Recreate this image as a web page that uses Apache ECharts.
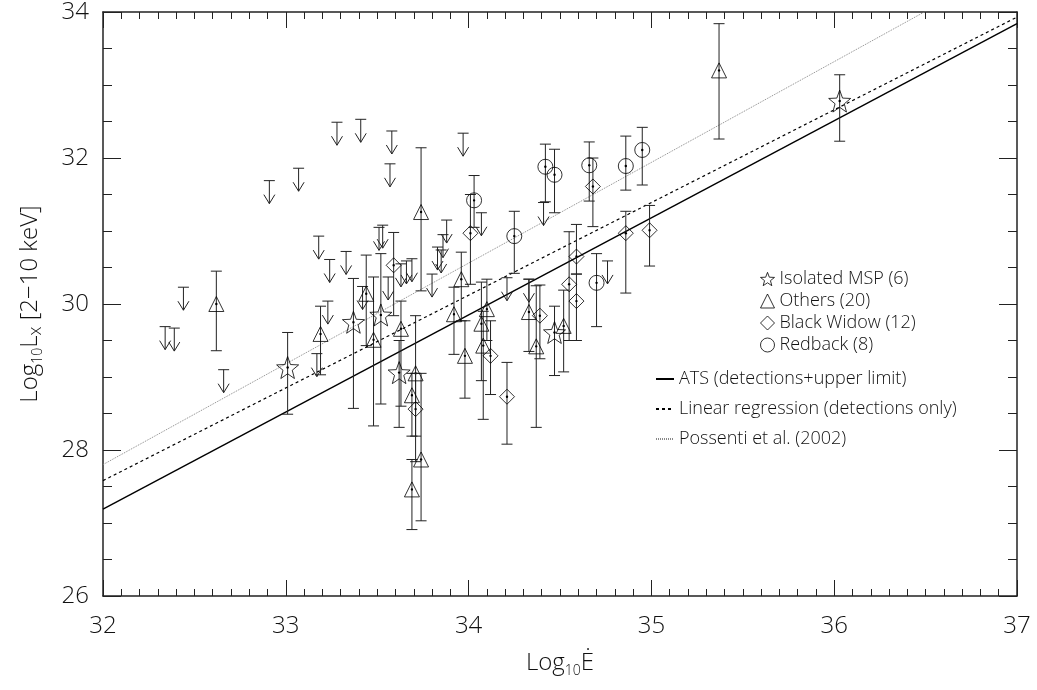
<!DOCTYPE html>
<html><head><meta charset="utf-8">
<script src="https://cdn.jsdelivr.net/npm/echarts@6/dist/echarts.min.js"></script>
<style>html,body{margin:0;padding:0;background:#fff}#c{width:1037px;height:690px}</style>
</head><body><div id="c"></div>
<script>
// Detections: [log10 Edot, log10 Lx, lower error end, upper error end]
const isolatedMSP = [
  [33.01, 29.13, 28.49, 29.61],
  [33.37, 29.75, 28.57, 30.35],
  [33.52, 29.85, 28.63, 30.69],
  [33.62, 29.06, 28.31, 29.50],
  [34.47, 29.61, 29.02, 29.97],
  [36.03, 32.78, 32.23, 33.14]
];
const others = [
  [32.62, 30.00, 29.36, 30.45],
  [33.19, 29.59, 29.03, 29.97],
  [33.44, 30.14, 29.43, 30.67],
  [33.48, 29.51, 28.33, 30.37],
  [33.63, 29.66, 28.60, 30.04],
  [33.71, 29.05, 28.19, 29.84],
  [33.69, 28.75, 28.19, 29.05],
  [33.74, 27.87, 27.03, 29.05],
  [33.69, 27.46, 26.91, 27.87],
  [33.74, 31.26, 30.18, 32.14],
  [33.96, 30.34, 29.77, 30.71],
  [33.92, 29.86, 29.31, 30.23],
  [33.98, 29.29, 28.71, 29.77],
  [34.10, 29.93, 29.50, 30.34],
  [34.07, 29.73, 28.95, 30.30],
  [34.08, 29.43, 28.42, 29.90],
  [34.33, 29.89, 29.35, 30.34],
  [34.37, 29.42, 28.31, 30.25],
  [34.52, 29.70, 29.07, 30.19],
  [35.37, 33.20, 32.26, 33.84]
];
const blackWidow = [
  [33.59, 30.53, 29.84, 30.98],
  [33.71, 28.56, 27.84, 29.05],
  [34.01, 30.97, 30.27, 31.50],
  [34.12, 29.29, 28.76, 29.77],
  [34.21, 28.73, 28.08, 29.20],
  [34.39, 29.84, 29.25, 30.26],
  [34.55, 30.27, 29.50, 30.99],
  [34.59, 30.65, 30.41, 31.09],
  [34.59, 30.04, 29.50, 30.41],
  [34.68, 31.61, 31.06, 32.00],
  [34.86, 30.97, 30.15, 31.27],
  [34.99, 31.01, 30.52, 31.35]
];
const redback = [
  [34.03, 31.42, 31.05, 31.76],
  [34.25, 30.93, 30.42, 31.27],
  [34.42, 31.88, 31.40, 32.19],
  [34.47, 31.77, 31.25, 32.12],
  [34.66, 31.90, 31.41, 32.22],
  [34.86, 31.89, 31.56, 32.30],
  [34.95, 32.11, 31.63, 32.42],
  [34.70, 30.29, 29.69, 30.69]
];
// Upper limits: [log10 Edot, log10 Lx limit]
const upperLimits = [
  [32.34, 29.69], [32.39, 29.67], [32.44, 30.23], [32.66, 29.10],
  [32.91, 31.69], [33.07, 31.86], [33.17, 29.32], [33.18, 30.93],
  [33.23, 30.04], [33.24, 30.61], [33.28, 32.49], [33.33, 30.72],
  [33.41, 32.53], [33.42, 30.24], [33.51, 31.05], [33.53, 31.08],
  [33.56, 30.37], [33.57, 31.92], [33.58, 32.37], [33.63, 30.55],
  [33.66, 30.59], [33.69, 30.62], [33.80, 30.41], [33.83, 30.78],
  [33.85, 30.74], [33.86, 30.95], [33.88, 31.15], [33.97, 32.34],
  [34.07, 31.25], [34.21, 30.36], [34.33, 30.34], [34.41, 31.39],
  [34.76, 30.59]
];
// Fitted relations, endpoints [log10 Edot, log10 Lx]
const atsFit = [[32, 27.19], [37, 33.84]];
const linRegFit = [[32, 27.58], [37, 33.93]];
const possentiFit = [[32, 27.80], [37, 34.70]];

const legendSymbols = ['Isolated MSP (6)', 'Others (20)', 'Black Widow (12)', 'Redback (8)'];
const legendLines = ['ATS (detections+upper limit)', 'Linear regression (detections only)', 'Possenti et al. (2002)'];

const FONT = '"Open Sans", "DejaVu Sans", sans-serif';
const FW = 300;
const STAR = 'path://M50 0 L62.34 33.01 L97.55 34.55 L69.97 56.49 L79.39 90.45 L50 71 L20.61 90.45 L30.03 56.49 L2.45 34.55 L37.66 33.01 Z';
const hollow = {color: 'rgba(0,0,0,0)', borderColor: '#000', borderWidth: 1};
const noSym = {color: 'rgba(0,0,0,0)', borderColor: 'rgba(0,0,0,0)', borderWidth: 0};

function errRender(params, api) {
  const x = api.value(0), y = api.value(1), lo = api.value(2), hi = api.value(3);
  const c = api.coord([x, y]), pl = api.coord([x, lo]), ph = api.coord([x, hi]);
  const w = 5.5;
  const st = {stroke: '#222', lineWidth: 1};
  return {type: 'group', children: [
    {type: 'line', shape: {x1: c[0], y1: ph[1], x2: c[0], y2: pl[1]}, style: st},
    {type: 'line', shape: {x1: c[0] - w, y1: ph[1], x2: c[0] + w, y2: ph[1]}, style: st},
    {type: 'line', shape: {x1: c[0] - w, y1: pl[1], x2: c[0] + w, y2: pl[1]}, style: st},
    {type: 'circle', shape: {cx: c[0], cy: c[1], r: 1.2}, style: {fill: '#000'}}
  ]};
}
function ulRender(params, api) {
  const c = api.coord([api.value(0), api.value(1)]);
  const st = {stroke: '#222', lineWidth: 1, fill: 'none'};
  return {type: 'group', children: [
    {type: 'line', shape: {x1: c[0] - 5.5, y1: c[1], x2: c[0] + 5.5, y2: c[1]}, style: st},
    {type: 'line', shape: {x1: c[0], y1: c[1], x2: c[0], y2: c[1] + 23}, style: st},
    {type: 'polyline', shape: {points: [[c[0] - 5.5, c[1] + 14], [c[0], c[1] + 23], [c[0] + 5.5, c[1] + 14]]}, style: st}
  ]};
}

const lineAx = {show: true, onZero: false, lineStyle: {color: '#222', width: 1.5}};
const richName = {
  t: {fontSize: 24, fontFamily: FONT, fontWeight: FW, color: '#111', lineHeight: 30},
  s: {fontSize: 14, fontFamily: FONT, fontWeight: FW, color: '#111', lineHeight: 14, verticalAlign: 'bottom'},
  x: {fontSize: 18, fontFamily: FONT, fontWeight: FW, color: '#111', lineHeight: 18, verticalAlign: 'bottom'}
};

function xAx(pos) {
  return {
    type: 'value', position: pos, min: 32, max: 37, interval: 1,
    axisLine: lineAx,
    axisTick: {show: true, inside: true, length: 16, lineStyle: {color: '#222', width: 1}},
    minorTick: {show: true, splitNumber: 10, length: 7, lineStyle: {color: '#222', width: 1}},
    splitLine: {show: false},
    axisLabel: {show: pos === 'bottom', fontSize: 24, margin: 18, color: '#111', fontFamily: FONT, fontWeight: FW},
    name: pos === 'bottom' ? '{t|Log}{s|10}{t|Ė}' : '',
    nameLocation: 'middle', nameGap: 52,
    nameTextStyle: {rich: richName}
  };
}
function yAx(pos) {
  return {
    type: 'value', position: pos, min: 26, max: 34, interval: 2,
    axisLine: lineAx,
    axisTick: {show: true, inside: true, length: 18, lineStyle: {color: '#222', width: 1}},
    minorTick: {show: true, splitNumber: 4, length: 9, lineStyle: {color: '#222', width: 1}},
    splitLine: {show: false},
    axisLabel: {show: pos === 'left', fontSize: 24, margin: 14, color: '#111', fontFamily: FONT, fontWeight: FW},
    name: pos === 'left' ? '{t|Log}{s|10}{t|L}{x|x}{t| [2−10 keV]}' : '',
    nameLocation: 'middle', nameGap: 58,
    nameTextStyle: {rich: richName}
  };
}

const chart = echarts.init(document.getElementById('c'), null, {renderer: 'canvas'});
const allDet = isolatedMSP.concat(others, blackWidow, redback);
const scatter = (name, arr, symbol, size) => ({
  name, type: 'scatter', data: arr.map(d => [d[0], d[1]]), symbol, symbolSize: size,
  itemStyle: hollow, z: 4, silent: true
});
const fitLine = (name, arr, color, type, width) => ({
  name, type: 'line', data: arr, symbol: 'none', silent: true, z: 2,
  lineStyle: {color, type, width}, itemStyle: {color}
});

chart.setOption({
  animation: false,
  backgroundColor: '#fff',
  grid: {left: 103, right: 20, top: 8, bottom: 94},
  xAxis: [xAx('bottom'), xAx('top')],
  yAxis: [yAx('left'), yAx('right')],
  legend: [
    {
      orient: 'vertical', left: 755, top: 265, itemWidth: 14, itemHeight: 14, itemGap: 4,
      textStyle: {fontSize: 18, fontFamily: FONT, fontWeight: FW, color: '#111'},
      selectedMode: false,
      data: [
        {name: legendSymbols[0], icon: STAR, itemStyle: hollow},
        {name: legendSymbols[1], icon: 'triangle', itemStyle: hollow},
        {name: legendSymbols[2], icon: 'diamond', itemStyle: hollow},
        {name: legendSymbols[3], icon: 'circle', itemStyle: hollow}
      ]
    },
    {
      orient: 'vertical', left: 650, top: 365, itemWidth: 18, itemHeight: 14, itemGap: 12,
      textStyle: {fontSize: 18, fontFamily: FONT, fontWeight: FW, color: '#111'},
      selectedMode: false,
      data: legendLines.map(n => ({name: n, itemStyle: noSym}))
    }
  ],
  series: [
    fitLine(legendLines[0], atsFit, '#000', 'solid', 1.4),
    fitLine(legendLines[1], linRegFit, '#000', [3, 3], 1.2),
    fitLine(legendLines[2], possentiFit, '#888', [1, 1], 1),
    {
      type: 'custom', name: 'errorbars', data: allDet, renderItem: errRender,
      encode: {x: 0, y: [1, 2, 3]}, clip: true, silent: true, z: 3
    },
    {
      type: 'custom', name: 'upperlimits', data: upperLimits, renderItem: ulRender,
      encode: {x: 0, y: 1}, clip: true, silent: true, z: 3
    },
    scatter(legendSymbols[0], isolatedMSP, STAR, 22),
    scatter(legendSymbols[1], others, 'triangle', 15),
    scatter(legendSymbols[2], blackWidow, 'diamond', 15),
    scatter(legendSymbols[3], redback, 'circle', 15)
  ]
});
</script></body></html>
